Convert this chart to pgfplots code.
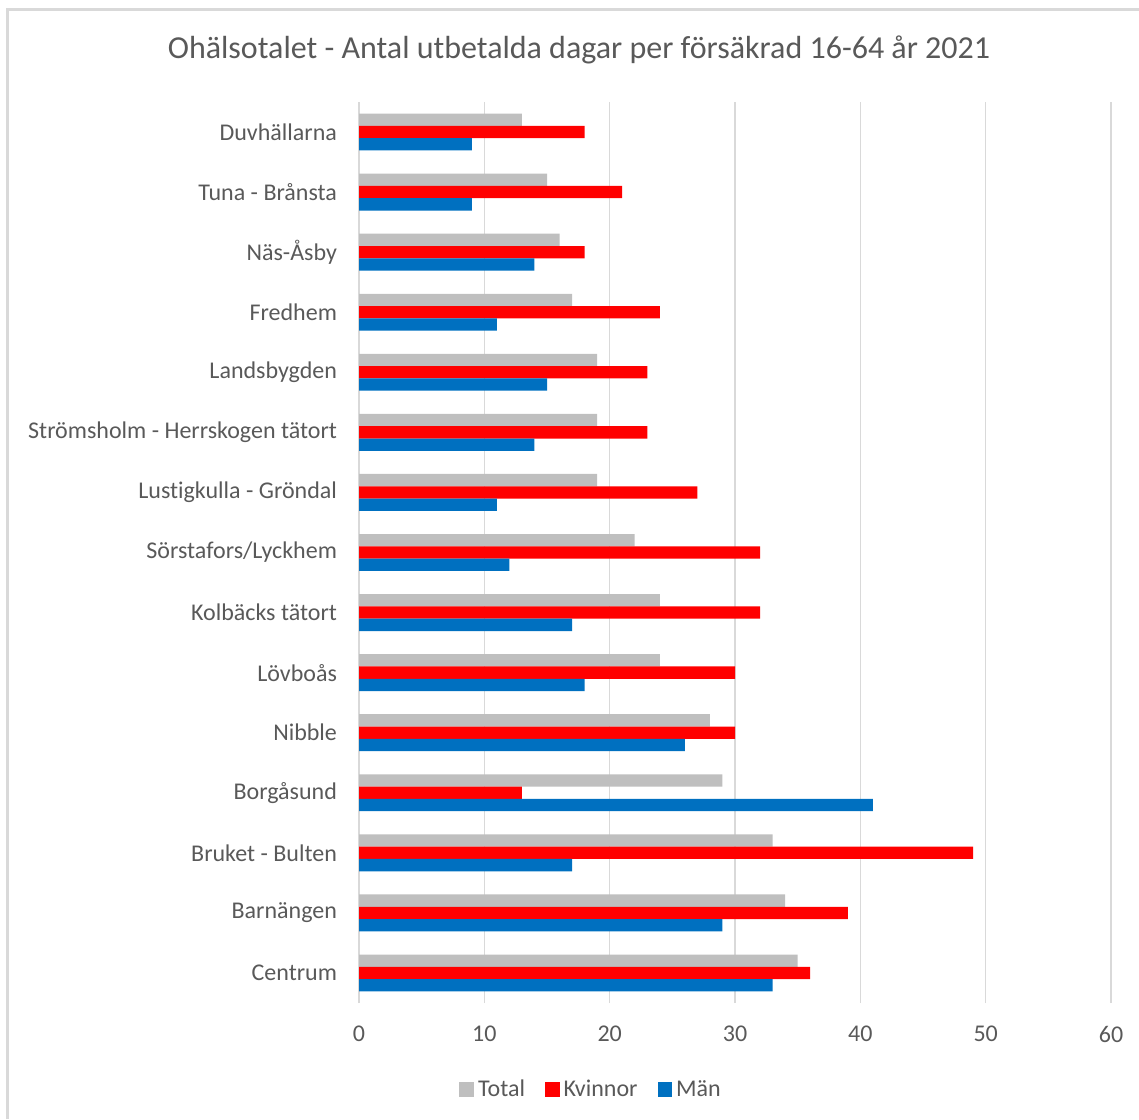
\documentclass[border=0pt]{standalone}
\usepackage{pgfplots}
\pgfplotsset{compat=1.18}
\usepackage{fontspec}
\setmainfont{Carlito}[Ligatures=NoCommon]
\definecolor{txt}{HTML}{595959}
\definecolor{gridc}{HTML}{D9D9D9}
\definecolor{cTotal}{HTML}{BFBFBF}
\definecolor{cKv}{HTML}{FF0000}
\definecolor{cMan}{HTML}{0070C0}
\begin{document}
\begin{tikzpicture}
\path[use as bounding box] (0pt,0pt) rectangle (569.5pt,559.5pt);
\draw[gridc, line width=1.2pt] (3.75pt,0pt) -- (3.75pt,554.75pt) -- (569.5pt,554.75pt);
\node[text=txt, font=\fontsize{16}{19}\selectfont] at (289.5pt,534.5pt) {Ohälsotalet - Antal utbetalda dagar per försäkrad 16-64 år 2021};
\begin{axis}[
  at={(179.5pt,58pt)}, anchor=south west,
  scale only axis, width=376pt, height=450.5pt,
  xbar, bar width=6.15pt,
  xmin=0, xmax=60, ymin=-0.5, ymax=14.5,
  xtick={0,10,...,60},
  ytick={0,...,14},
  yticklabels={Centrum,Barnängen,Bruket - Bulten,Borgåsund,Nibble,Lövboås,Kolbäcks tätort,Sörstafors/Lyckhem,Lustigkulla - Gröndal,Strömsholm - Herrskogen tätort,Landsbygden,Fredhem,Näs-Åsby,Tuna - Brånsta,Duvhällarna},
  xmajorgrids, grid style={gridc, line width=0.8pt},
  axis line style={draw=none},
  axis x line*=bottom, axis y line*=left,
  major tick length=0pt,
  tick label style={text=txt, font=\fontsize{12}{14}\selectfont},
  xticklabel style={yshift=-8pt},
  yticklabel style={xshift=-7.5pt},
  /pgf/number format/assume math mode=true,
  legend style={at={(0.31,-0.076)}, anchor=north, legend columns=3, draw=none,
    font=\fontsize{12}{14}\selectfont, text=txt,
    /tikz/every even column/.append style={column sep=8pt}},
  legend image code/.code={\fill[#1] (0pt,-3.6pt) rectangle (7.3pt,3.7pt);},
  clip=false,
]
\draw[gridc, line width=0.8pt] (axis cs:0,-0.5) -- (axis cs:0,14.5);
\addplot[fill=cTotal, draw=none, bar shift=6.15pt] coordinates {
(35,0) (34,1) (33,2) (29,3) (28,4) (24,5) (24,6) (22,7) (19,8) (19,9) (19,10) (17,11) (16,12) (15,13) (13,14)};
\addlegendentry{Total}
\addplot[fill=cKv, draw=none, bar shift=0pt] coordinates {
(36,0) (39,1) (49,2) (13,3) (30,4) (30,5) (32,6) (32,7) (27,8) (23,9) (23,10) (24,11) (18,12) (21,13) (18,14)};
\addlegendentry{Kvinnor}
\addplot[fill=cMan, draw=none, bar shift=-6.15pt] coordinates {
(33,0) (29,1) (17,2) (41,3) (26,4) (18,5) (17,6) (12,7) (11,8) (14,9) (15,10) (11,11) (14,12) (9,13) (9,14)};
\addlegendentry{Män}
\end{axis}
\end{tikzpicture}
\end{document}
